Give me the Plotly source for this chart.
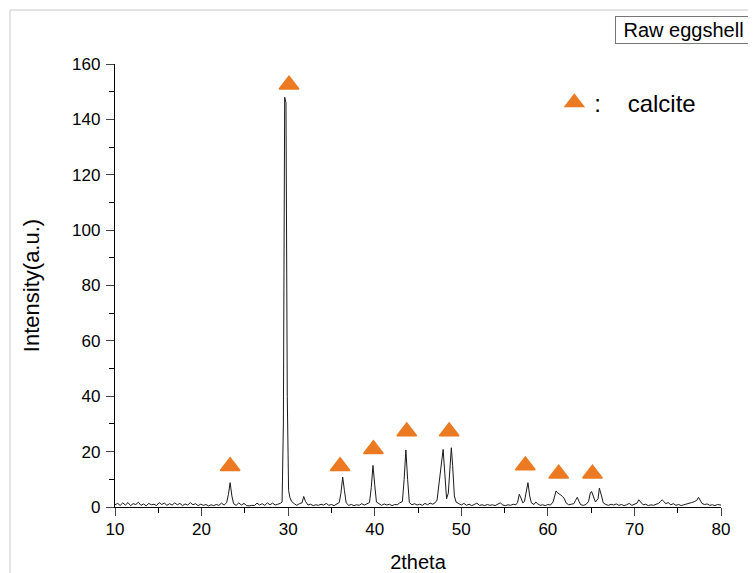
import plotly.graph_objects as go

# XRD pattern (2theta, intensity)
two_theta = [
    10.0, 10.3, 10.6, 10.9, 11.2, 11.5, 11.8, 12.1, 12.4, 12.7, 13.0, 13.3, 13.6, 13.9, 14.2, 14.5, 14.8,
    15.1, 15.4, 15.7, 16.0, 16.3, 16.6, 16.9, 17.2, 17.5, 17.8, 18.1, 18.4, 18.7, 19.0, 19.3, 19.6, 19.9,
    20.2, 20.5, 20.8, 21.1, 21.4, 21.7, 22.0, 22.3, 22.6, 22.9, 23.1, 23.3, 23.5, 23.7, 24.0, 24.3, 24.6,
    24.9, 25.2, 25.5, 25.8, 26.1, 26.4, 26.7, 27.0, 27.3, 27.6, 27.9, 28.2, 28.5, 28.8, 29.1, 29.3, 29.45,
    29.6, 29.75, 29.9, 30.05, 30.2, 30.4, 30.7, 31.0, 31.3, 31.6, 31.8, 32.0, 32.3, 32.6, 32.9, 33.2, 33.5,
    33.8, 34.1, 34.4, 34.7, 35.0, 35.3, 35.6, 35.9, 36.1, 36.3, 36.5, 36.7, 37.0, 37.3, 37.6, 37.9, 38.2,
    38.5, 38.8, 39.1, 39.4, 39.6, 39.8, 40.0, 40.2, 40.5, 40.8, 41.1, 41.4, 41.7, 42.0, 42.3, 42.6, 42.9,
    43.2, 43.4, 43.6, 43.8, 44.0, 44.3, 44.6, 44.9, 45.2, 45.5, 45.8, 46.1, 46.4, 46.7, 47.0, 47.2, 47.4,
    47.6, 47.75, 47.9, 48.1, 48.3, 48.5, 48.7, 48.85, 49.0, 49.2, 49.4, 49.7, 50.0, 50.3, 50.6, 50.9, 51.2,
    51.5, 51.8, 52.1, 52.4, 52.7, 53.0, 53.3, 53.6, 53.9, 54.2, 54.5, 54.8, 55.1, 55.4, 55.7, 56.0, 56.3,
    56.5, 56.7, 56.9, 57.1, 57.3, 57.5, 57.7, 57.9, 58.1, 58.4, 58.6, 58.8, 59.1, 59.4, 59.7, 60.0, 60.3,
    60.6, 60.8, 60.95, 61.1, 61.3, 61.5, 61.7, 61.9, 62.1, 62.4, 62.7, 63.0, 63.2, 63.4, 63.6, 63.8, 64.1,
    64.4, 64.7, 64.9, 65.05, 65.3, 65.5, 65.8, 65.95, 66.2, 66.4, 66.7, 67.0, 67.3, 67.6, 67.9, 68.2, 68.5,
    68.8, 69.1, 69.4, 69.7, 70.0, 70.3, 70.5, 70.7, 71.0, 71.3, 71.6, 71.9, 72.2, 72.5, 72.8, 73.0, 73.2,
    73.4, 73.6, 73.9, 74.2, 74.5, 74.8, 75.1, 75.4, 75.7, 76.0, 76.3, 76.6, 76.9, 77.2, 77.4, 77.6, 77.8,
    78.1, 78.4, 78.7, 79.0, 79.3, 79.6, 80.0,
]
intensity = [
    0.8, 1.3, 0.6, 1.5, 0.7, 1.6, 0.5, 1.2, 0.9, 1.7, 0.6, 1.1, 0.4, 1.3, 0.8, 1.0, 0.5,
    1.6, 0.9, 1.4, 0.6, 1.2, 0.7, 1.5, 0.8, 1.3, 0.5, 1.1, 0.7, 1.6, 0.8, 1.2, 0.5, 1.0,
    0.6, 0.9, 0.4, 0.8, 0.5, 0.9, 0.6, 1.4, 0.7, 1.6, 4.5, 8.8, 4.0, 1.2, 0.6, 1.5, 0.7,
    1.3, 0.5, 0.4, 0.6, 0.5, 1.4, 0.7, 1.2, 0.6, 1.5, 0.8, 1.4, 0.7, 1.0, 1.3, 1.8, 30.0,
    148.0, 146.0, 40.0, 6.0, 3.5, 2.0, 1.2, 0.6, 1.2, 1.5, 3.8, 2.0, 0.7, 1.0, 0.5, 0.8, 0.6,
    1.0, 0.7, 1.3, 0.6, 0.9, 0.5, 1.0, 1.6, 5.0, 10.8, 6.0, 1.5, 0.6, 0.9, 0.5, 0.8, 0.6,
    1.2, 0.7, 1.1, 1.6, 7.0, 15.0, 8.0, 1.8, 1.2, 0.6, 1.1, 0.7, 1.0, 0.5, 0.9, 0.8, 1.5,
    2.0, 10.0, 20.6, 10.0, 1.6, 0.8, 1.2, 0.7, 1.0, 0.6, 1.3, 0.8, 1.4, 1.0, 1.6, 2.5, 8.0,
    12.0, 17.0, 20.8, 12.0, 3.0, 5.0, 15.0, 21.4, 15.0, 4.0, 1.8, 1.2, 0.7, 1.3, 0.6, 1.0, 0.5,
    0.9, 1.4, 0.6, 0.8, 0.5, 0.9, 0.6, 0.8, 0.5, 0.9, 1.5, 0.7, 0.5, 0.8, 0.6, 1.0, 0.8,
    1.6, 4.6, 3.2, 1.5, 2.0, 5.0, 8.8, 4.0, 1.5, 0.9, 1.8, 1.2, 0.6, 0.8, 0.5, 0.9, 0.7,
    1.8, 4.5, 5.8, 5.2, 4.6, 4.3, 3.8, 3.0, 1.5, 0.8, 1.0, 1.2, 2.4, 3.5, 2.0, 0.8, 0.6,
    0.9, 2.0, 5.0, 5.6, 3.5, 1.8, 3.0, 6.8, 4.0, 1.5, 0.9, 0.6, 1.0, 0.7, 1.1, 0.6, 0.9,
    0.5, 0.8, 1.3, 0.6, 0.9, 1.4, 2.6, 1.8, 0.8, 1.0, 0.5, 0.8, 0.6, 1.0, 1.3, 2.0, 2.6,
    2.0, 1.2, 1.6, 0.8, 1.2, 0.6, 0.9, 0.5, 0.8, 1.0, 1.2, 1.6, 1.9, 2.4, 3.5, 2.6, 1.3,
    0.9, 1.1, 0.6, 0.8, 0.5, 0.9, 0.7,
]

# calcite peak markers
calcite_x = [23.3, 30.1, 36.0, 39.85, 43.7, 48.6, 57.4, 61.25, 65.15]
calcite_y = [14.7, 152.5, 14.7, 20.9, 27.3, 27.3, 15.0, 12.0, 12.0]

x_ticks = [10, 20, 30, 40, 50, 60, 70, 80]
y_ticks = [0, 20, 40, 60, 80, 100, 120, 140, 160]

FONT = "Arial, 'Liberation Sans', sans-serif"
ORANGE = "#EC7A22"

fig = go.Figure()
fig.add_trace(go.Scatter(
    x=two_theta, y=intensity, mode="lines",
    line=dict(color="#1a1a1a", width=1), showlegend=False, hoverinfo="skip",
))
fig.add_trace(go.Scatter(
    x=calcite_x, y=calcite_y, mode="markers", name=":\u00a0\u00a0\u00a0\u00a0calcite",
    marker=dict(symbol="triangle-up", size=17, color=ORANGE,
                line=dict(color=ORANGE, width=1.5)),
    showlegend=True,
))

fig.update_layout(
    width=748, height=565,
    margin=dict(l=107, r=35, t=56, b=66, autoexpand=False),
    paper_bgcolor="white", plot_bgcolor="white",
    font=dict(family=FONT, color="black", size=17),
    showlegend=True,
    legend=dict(x=0.725, y=0.912, xanchor="left", yanchor="middle",
                font=dict(size=24, family=FONT), bgcolor="rgba(0,0,0,0)",
                itemwidth=30),
    xaxis=dict(
        range=[10, 80], tickvals=x_ticks, ticks="outside", ticklen=8, tickwidth=1.3,
        showline=True, linecolor="black", linewidth=1.3, showgrid=False, zeroline=False,
        automargin=False, tickfont=dict(size=17), ticklabelstandoff=-2,
        minor=dict(dtick=5, ticks="outside", ticklen=5, tickcolor="black", tickwidth=1.3),
        title=dict(text="2theta", font=dict(size=20), standoff=18),
    ),
    yaxis=dict(
        range=[0, 160], tickvals=y_ticks, ticks="outside", ticklen=8, tickwidth=1.3,
        showline=True, linecolor="black", linewidth=1.3, showgrid=False, zeroline=False,
        automargin=False, tickfont=dict(size=17), ticklabelstandoff=2,
        minor=dict(dtick=10, ticks="outside", ticklen=5, tickcolor="black", tickwidth=1.3),
        title=dict(text="Intensity(a.u.)", font=dict(size=22), standoff=26),
    ),
    shapes=[dict(type="rect", xref="paper", yref="paper",
                 x0=-0.1733, x1=1.2, y0=-0.3, y1=1.1218,
                 line=dict(color="#c8c8c8", width=1), fillcolor="rgba(0,0,0,0)", layer="below")],
    annotations=[dict(text="\u00a0Raw eggshell\u00a0\u00a0", xref="paper", yref="paper",
                      x=0.825, y=1.0767, xanchor="left", yanchor="middle", showarrow=False,
                      font=dict(size=20, family=FONT), bordercolor="#777", borderwidth=1,
                      borderpad=2, bgcolor="white")],
)

fig.write_html("out.html")
